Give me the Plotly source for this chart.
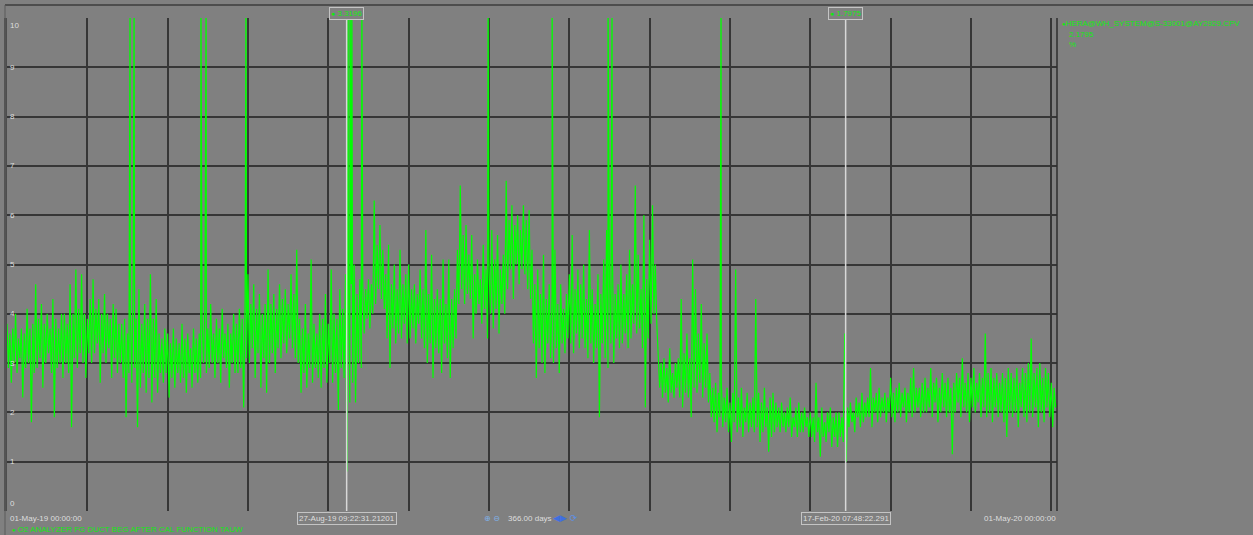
import pandas as pd
import plotly.graph_objects as go

# ---------------------------------------------------------------------------
# O2 analyzer trend, 01-May-19 .. 01-May-20 (one year window)
# daily_high / daily_low: daily extremes of the signal in %, one entry per day
# ---------------------------------------------------------------------------
start_date = pd.Timestamp("2019-05-01 00:00:00")
end_date = pd.Timestamp("2020-05-01 00:00:00")

daily_high = [
    3.8, 3.6, 3.7, 4.0, 3.5, 3.7, 3.6, 4.1, 3.7, 3.8,
    4.6, 3.9, 4.2, 3.8, 4.0, 3.7, 4.3, 3.9, 3.7, 4.0,
    4.0, 3.8, 4.6, 4.0, 4.9, 4.1, 4.8, 4.0, 3.9, 4.3,
    4.7, 4.1, 4.3, 4.0, 4.4, 4.0, 3.9, 4.2, 4.1, 3.8,
    3.8, 3.9, 3.6, 4.0, 4.8, 3.9, 4.5, 3.8, 4.2, 3.9,
    4.8, 3.9, 4.3, 3.6, 3.5, 3.7, 3.6, 3.4, 3.7, 3.5,
    3.4, 3.8, 3.5, 3.6, 3.3, 3.7, 3.5, 3.6, 3.9, 4.2,
    3.7, 4.2, 3.6, 3.9, 3.7, 4.1, 3.6, 3.8, 3.6, 4.0,
    3.8, 4.1, 3.9, 4.3, 4.8, 4.2, 4.6, 4.1, 4.4, 4.0,
    4.2, 4.9, 4.2, 4.4, 4.1, 4.6, 4.3, 4.5, 4.2, 4.8,
    4.4, 5.3, 3.9, 3.7, 4.2, 3.6, 5.1, 3.8, 3.6, 4.0,
    3.9, 4.4, 3.8, 4.9, 4.0, 3.9, 4.5, 4.1, 4.8, 5.0,
    4.6, 5.0, 4.4, 4.7, 4.6, 4.5, 4.7, 4.6, 6.3, 5.4,
    5.8, 5.3, 4.8, 5.4, 4.6, 5.0, 4.5, 5.3, 4.6, 4.8,
    5.0, 4.5, 4.6, 4.4, 4.9, 4.5, 5.7, 4.4, 5.2, 4.3,
    4.5, 4.3, 5.1, 4.2, 5.1, 4.3, 4.5, 5.3, 6.6, 5.6,
    5.8, 5.2, 5.6, 4.8, 5.1, 4.7, 5.4, 4.9, 5.0, 5.7,
    5.1, 5.6, 4.9, 5.2, 6.7, 5.9, 6.2, 5.8, 6.0, 5.7,
    6.2, 5.9, 6.1, 5.3, 4.6, 4.9, 4.4, 5.2, 4.3, 4.6,
    4.4, 5.3, 4.2, 4.6, 4.1, 4.4, 4.8, 5.6, 4.5, 4.9,
    4.6, 5.0, 4.3, 5.7, 4.5, 4.2, 4.8, 4.4, 5.1, 5.7,
    4.7, 5.3, 4.4, 4.6, 5.0, 4.4, 4.8, 5.3, 4.6, 6.6,
    5.2, 4.5, 6.0, 4.7, 5.5, 6.2, 5.0, 3.2, 3.0, 3.1,
    2.9, 3.3, 2.8, 3.0, 3.1, 4.3, 3.2, 3.6, 3.1, 5.1,
    4.5, 3.6, 4.2, 3.4, 3.6, 2.8, 2.5, 2.6, 2.4, 2.6,
    2.3, 2.5, 2.2, 2.4, 4.9, 2.3, 2.5, 2.1, 2.4, 2.2,
    2.3, 4.3, 2.4, 2.2, 2.5, 2.1, 2.3, 2.4, 2.2, 2.1,
    2.2, 2.0, 2.1, 2.3, 1.9, 2.1, 2.2, 2.0, 2.1, 1.9,
    2.0, 1.9, 2.6, 1.9, 2.1, 1.8, 2.0, 2.1, 1.9, 2.0,
    2.0, 1.9, 3.6, 2.1, 2.2, 2.0, 2.3, 2.2, 2.4, 2.2,
    2.3, 2.9, 2.3, 2.4, 2.5, 2.3, 2.4, 2.3, 2.7, 2.4,
    2.5, 2.6, 2.4, 2.5, 2.4, 2.7, 2.9, 2.5, 2.5, 2.6,
    2.7, 2.5, 2.9, 2.6, 2.7, 2.5, 2.8, 2.6, 2.7, 2.5,
    2.6, 2.8, 2.7, 3.1, 2.6, 2.8, 2.7, 2.9, 2.6, 2.8,
    2.7, 3.6, 2.8, 2.9, 2.7, 2.8, 2.6, 2.8, 2.7, 2.9,
    2.8, 2.7, 2.9, 2.6, 2.9, 2.8, 3.0, 3.5, 2.8, 2.9,
    3.0, 2.7, 2.9, 2.8, 2.6, 2.5,
]

daily_low = [
    2.9, 2.6, 3.0, 2.8, 3.1, 2.3, 2.9, 3.0, 1.8, 2.8,
    2.9, 3.1, 2.5, 3.0, 3.2, 2.8, 1.9, 2.9, 3.0, 2.7,
    3.0, 2.8, 1.7, 3.1, 2.9, 3.2, 3.0, 2.7, 3.2, 3.0,
    3.2, 3.4, 2.6, 3.2, 3.0, 3.3, 2.7, 3.1, 2.8, 3.0,
    2.7, 1.9, 2.8, 2.6, 2.9, 1.7, 2.5, 2.8, 2.4, 2.7,
    2.2, 2.7, 2.4, 2.8, 2.6, 2.8, 2.3, 2.7, 2.5, 2.8,
    2.6, 2.7, 2.4, 2.8, 2.5, 2.8, 2.6, 2.7, 3.0, 2.8,
    2.9, 3.0, 2.7, 3.0, 2.6, 3.1, 2.9, 2.5, 3.0, 2.8,
    2.8, 2.9, 2.1, 3.1, 3.0, 3.3, 2.7, 3.2, 2.5, 3.1,
    2.4, 3.0, 3.2, 2.8, 3.3, 3.1, 3.4, 3.2, 3.5, 3.3,
    3.1, 3.0, 2.4, 2.8, 2.5, 2.9, 2.6, 2.9, 2.7, 2.5,
    2.9, 2.6, 3.0, 2.6, 2.8, 2.05, 2.9, 2.7, 0.8, 2.2,
    2.6, 2.2, 3.0, 2.9, 3.6, 3.9, 3.7, 4.0, 4.2, 4.5,
    4.3, 4.1, 3.5, 2.9, 3.7, 3.4, 3.6, 3.5, 3.8, 3.4,
    3.5, 3.7, 3.4, 3.8, 3.5, 3.3, 3.0, 3.4, 2.7, 3.3,
    3.2, 2.8, 3.4, 3.1, 2.7, 3.3, 3.5, 4.2, 4.5, 4.2,
    4.4, 4.3, 3.5, 4.0, 4.2, 3.8, 4.1, 3.5, 4.0, 3.7,
    4.1, 3.6, 4.2, 4.0, 4.5, 4.9, 4.3, 5.0, 4.6, 4.9,
    4.8, 4.5, 4.3, 3.4, 2.7, 3.3, 3.0, 2.8, 3.4, 3.1,
    3.0, 3.3, 2.8, 3.4, 3.2, 3.5, 3.4, 3.2, 3.6, 3.3,
    3.5, 3.3, 3.1, 3.4, 3.0, 3.3, 1.9, 3.4, 3.1, 2.9,
    3.4, 3.0, 3.5, 3.3, 3.4, 3.6, 3.3, 3.5, 3.8, 3.6,
    3.7, 3.3, 2.1, 3.5, 3.8, 4.0, 3.8, 2.5, 2.3, 2.4,
    2.2, 2.4, 2.3, 2.5, 2.3, 2.1, 2.4, 2.3, 1.9, 2.5,
    2.4, 2.6, 2.3, 2.5, 2.2, 1.9, 1.8, 1.6, 1.9, 1.7,
    1.8, 1.6, 1.4, 1.8, 1.6, 1.7, 1.5, 1.8, 1.6, 1.7,
    1.6, 1.7, 1.4, 1.6, 1.7, 1.2, 1.5, 1.6, 1.7, 1.6,
    1.7, 1.6, 1.7, 1.5, 1.7, 1.5, 1.6, 1.6, 1.7, 1.5,
    1.5, 1.4, 1.6, 1.1, 1.5, 1.4, 1.6, 1.3, 1.5, 1.3,
    1.5, 1.4, 1.0, 1.7, 1.8, 1.6, 1.9, 1.7, 1.8, 1.9,
    1.9, 1.7, 2.0, 1.8, 1.9, 2.0, 1.8, 2.0, 1.9, 1.8,
    2.0, 1.9, 2.1, 1.8, 2.0, 1.9, 2.0, 2.1, 1.9, 2.0,
    2.0, 2.1, 1.9, 2.2, 1.8, 2.0, 2.1, 1.9, 2.0, 1.15,
    2.0, 2.2, 1.9, 2.1, 2.0, 1.8, 2.1, 2.0, 2.2, 1.9,
    2.1, 1.9, 2.0, 1.8, 2.1, 1.9, 2.0, 1.8, 1.5, 2.0,
    1.9, 2.0, 1.7, 2.1, 1.9, 1.8, 2.0, 1.9, 2.1, 1.7,
    2.0, 1.8, 2.1, 1.9, 1.7, 2.1,
]

# Short out-of-range excursions (days after start, value in %)
spike_days = [42.9, 44.3, 67.6, 69.4, 83.3, 118.9, 119.6, 120.2, 123.7,
              167.7, 190.0, 209.5, 210.9, 248.9]
spike_values = [10.6] * len(spike_days)

last_value = 2.1795

# Cursors: time stamp, value readout
cursor_times = ["2019-08-27 09:22:31.21201", "2020-02-17 07:48:22.291"]
cursor_labels = ["27-Aug-19 09:22:31.21201", "17-Feb-20 07:48:22.291"]
cursor_values = ["3.3196", "1.7975"]

y_ticks = list(range(0, 11))

tag_name = "HERA@WH_SYSTEM@S-33001@AY2929.CPV"
tag_desc = "O2 ANALYZER FG DUCT BEG AFTER CAL FUNCTION TAUW"
tag_unit = "%"
span_text = "366.00 days"

# ---------------------------------------------------------------------------
# Build the time series: high then low sample for each day, plus excursions
# ---------------------------------------------------------------------------
points = []
for i, (hi, lo) in enumerate(zip(daily_high, daily_low)):
    points.append((i + 0.0, hi))
    points.append((i + 0.5, lo))
for d, v in zip(spike_days, spike_values):
    points.append((d, v))
points.append((366.0, last_value))
points.sort(key=lambda p: p[0])

x_times = [start_date + pd.to_timedelta(d, unit="D") for d, _ in points]
y_vals = [v for _, v in points]

# ---------------------------------------------------------------------------
# Figure geometry (pixels)
# ---------------------------------------------------------------------------
W, H = 1253, 535
ML, MR, MT, MB = 7, 196, 18, 24
PW, PH = W - ML - MR, H - MT - MB

BG = "#808080"
GRID = "#363636"
TEXT_GREEN = "#12e812"
LABEL = "#dedede"
FONT = "Liberation Sans"


def px_x(px):
    return (px - ML) / PW


def px_y(py):
    return (H - MB - py) / PH


fig = go.Figure()
fig.add_trace(go.Scatter(
    x=x_times, y=y_vals, mode="lines",
    line=dict(color="#00ff00", width=1.2),
    hoverinfo="skip", showlegend=False,
))

shapes = []
annotations = []

# outer frame
shapes.append(dict(type="line", xref="paper", yref="paper",
                   x0=px_x(5), x1=px_x(W), y0=px_y(5), y1=px_y(5),
                   line=dict(color="#3c3c3c", width=1.5)))
shapes.append(dict(type="line", xref="paper", yref="paper",
                   x0=px_x(5), x1=px_x(5), y0=px_y(5), y1=px_y(H),
                   line=dict(color="#5a5a5a", width=1)))
# right border of the plot area
shapes.append(dict(type="line", xref="paper", yref="paper",
                   x0=1, x1=1, y0=0, y1=1,
                   line=dict(color="#2e2e2e", width=1.5)))

# cursor lines
for t in cursor_times:
    shapes.append(dict(type="line", xref="x", yref="paper",
                       x0=t, x1=t, y0=0, y1=px_y(18),
                       line=dict(color="#d8d8d8", width=1.5)))

# y tick labels drawn inside the plot
for v in y_ticks:
    anchor = "middle"
    if v == 10:
        anchor = "top"
    elif v == 0:
        anchor = "bottom"
    annotations.append(dict(xref="paper", yref="y", x=px_x(8), y=v,
                            text=str(v), showarrow=False,
                            xanchor="left", yanchor=anchor,
                            yshift=-1 if v == 10 else (1 if v == 0 else 0),
                            font=dict(family=FONT, size=8, color=LABEL)))

# time axis end labels
annotations.append(dict(xref="paper", yref="paper", x=px_x(8), y=px_y(518),
                        text=start_date.strftime("%d-%b-%y %H:%M:%S"),
                        showarrow=False, xanchor="left", yanchor="middle",
                        font=dict(family=FONT, size=8, color=LABEL)))
annotations.append(dict(xref="paper", yref="paper", x=px_x(1058), y=px_y(518),
                        text=end_date.strftime("%d-%b-%y %H:%M:%S"),
                        showarrow=False, xanchor="right", yanchor="middle",
                        font=dict(family=FONT, size=8, color=LABEL)))

# cursor readouts (value on top, time stamp at bottom)
for t, lab, val in zip(cursor_times, cursor_labels, cursor_values):
    annotations.append(dict(xref="x", yref="paper", x=t, y=px_y(13),
                            text="<span style='font-size:7px'>●</span> " + val,
                            showarrow=False, xanchor="center", yanchor="middle",
                            bgcolor=BG, bordercolor="#c4c4c4", borderwidth=1,
                            borderpad=1,
                            font=dict(family=FONT, size=8, color=TEXT_GREEN)))
    annotations.append(dict(xref="x", yref="paper", x=t, y=px_y(518),
                            text=lab, showarrow=False,
                            xanchor="center", yanchor="middle",
                            bgcolor=BG, bordercolor="#c4c4c4", borderwidth=1,
                            borderpad=1,
                            font=dict(family=FONT, size=8, color=LABEL)))

# zoom / span controls
annotations.append(dict(xref="paper", yref="paper", x=px_x(482), y=px_y(518),
                        text="⊕ ⊖",
                        showarrow=False, xanchor="left", yanchor="middle",
                        font=dict(family="DejaVu Sans", size=8, color="#7fb0e8")))
annotations.append(dict(xref="paper", yref="paper", x=px_x(506), y=px_y(518),
                        text=span_text, showarrow=False,
                        xanchor="left", yanchor="middle",
                        font=dict(family=FONT, size=8, color=LABEL)))
annotations.append(dict(xref="paper", yref="paper", x=px_x(551), y=px_y(518),
                        text="◀▶ <span style='color:#5f8fe0'>⟳</span>",
                        showarrow=False, xanchor="left", yanchor="middle",
                        font=dict(family="DejaVu Sans", size=9, color="#3f6fe0")))

# tag legend (right panel)
annotations.append(dict(xref="paper", yref="paper", x=px_x(1060), y=px_y(23),
                        text="<span style='font-size:6px'>●</span>" + tag_name,
                        showarrow=False, xanchor="left", yanchor="middle",
                        font=dict(family=FONT, size=8, color=TEXT_GREEN)))
annotations.append(dict(xref="paper", yref="paper", x=px_x(1067), y=px_y(34),
                        text=f"{last_value:.4f}", showarrow=False,
                        xanchor="left", yanchor="middle",
                        font=dict(family=FONT, size=8, color=TEXT_GREEN)))
annotations.append(dict(xref="paper", yref="paper", x=px_x(1067), y=px_y(45),
                        text=tag_unit, showarrow=False,
                        xanchor="left", yanchor="middle",
                        font=dict(family=FONT, size=8, color=TEXT_GREEN)))

# tag description (bottom)
annotations.append(dict(xref="paper", yref="paper", x=px_x(10), y=px_y(529),
                        text="<span style='font-size:6px'>●</span> " + tag_desc,
                        showarrow=False, xanchor="left", yanchor="middle",
                        font=dict(family=FONT, size=8, color=TEXT_GREEN)))

fig.update_layout(
    width=W, height=H,
    margin=dict(l=ML, r=MR, t=MT, b=MB, pad=0),
    paper_bgcolor=BG, plot_bgcolor=BG,
    showlegend=False,
    shapes=shapes,
    annotations=annotations,
    xaxis=dict(
        type="date",
        range=[start_date, end_date],
        tick0=start_date, dtick=28 * 86400000,
        showgrid=True, gridcolor=GRID, gridwidth=1.5,
        showticklabels=False, ticks="",
        zeroline=False, showline=False, fixedrange=True,
    ),
    yaxis=dict(
        range=[0, 10], tick0=0, dtick=1,
        showgrid=True, gridcolor=GRID, gridwidth=1.5,
        showticklabels=False, ticks="",
        zeroline=False, showline=True, linecolor="#4e4e4e", linewidth=3,
        fixedrange=True,
    ),
)

fig.write_html("out.html", config={"displayModeBar": False})
